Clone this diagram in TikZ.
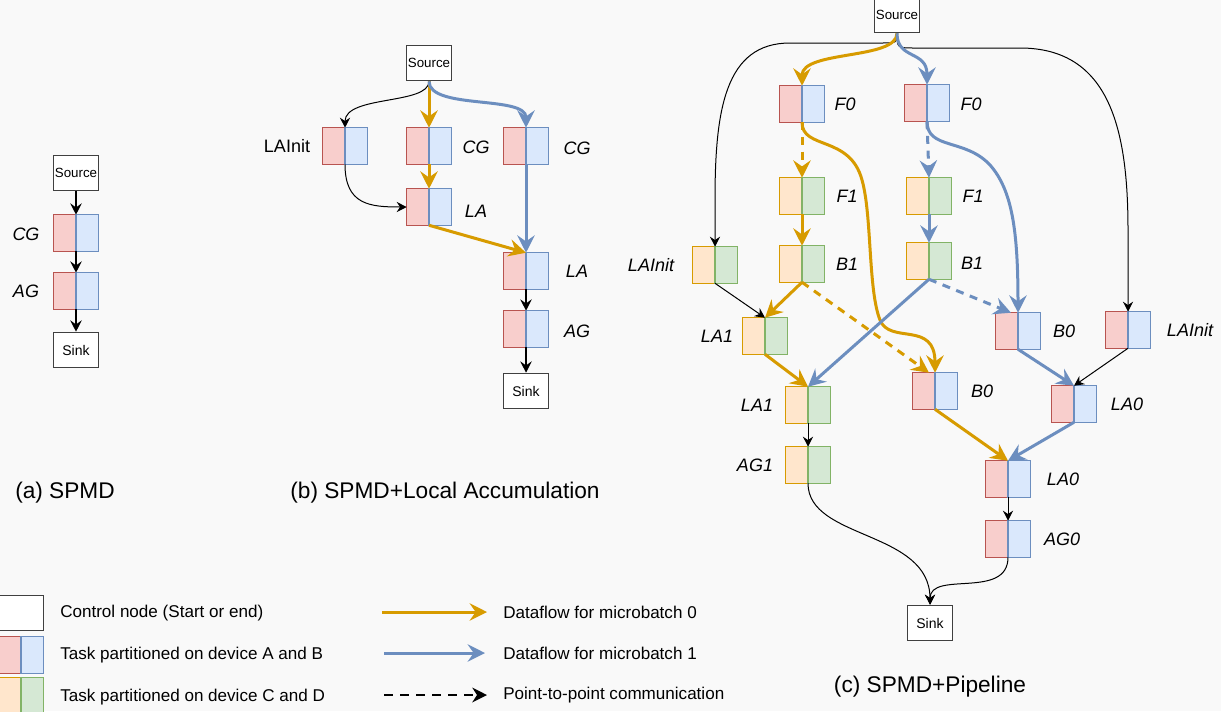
\documentclass[tikz,border=0pt]{standalone}
\usepackage{fontspec}
\setmainfont{Liberation Sans}
\usetikzlibrary{arrows.meta,calc}
\definecolor{rfill}{HTML}{F8CECC}\definecolor{rline}{HTML}{B85450}
\definecolor{bfill}{HTML}{DAE8FC}\definecolor{bline}{HTML}{6C8EBF}
\definecolor{ofill}{HTML}{FFE6CC}\definecolor{oline}{HTML}{D79B00}
\definecolor{gfill}{HTML}{D5E8D4}\definecolor{gline}{HTML}{82B366}
\definecolor{bgc}{HTML}{F9F9F9}
\tikzset{
  ctrl/.style={draw=black!75, line width=0.9pt, fill=white, minimum width=33.75pt, minimum height=26.5pt, inner sep=0pt, font=\fontsize{10}{12}\selectfont},
  task/.style={minimum width=33pt, minimum height=27pt, inner sep=0pt},
  lbl/.style={font=\fontsize{13.5}{16}\selectfont\itshape},
  lblup/.style={font=\fontsize{13.5}{16}\selectfont},
  captext/.style={font=\fontsize{17}{20}\selectfont},
  leg/.style={font=\fontsize{12.8}{15}\selectfont, anchor=west, inner sep=0pt},
  thinarr/.style={draw=black, line width=0.75pt, -{Stealth[length=7.5pt,width=7.5pt,inset=2.5pt]}},
  thickarr/.style={draw=black, line width=1.1pt, -{Stealth[length=8.5pt,width=8.5pt,inset=3pt]}},
  mb0/.style={draw=oline, line width=2.25pt, -{Stealth[length=13pt,width=13pt,inset=4.5pt]}},
  mb1/.style={draw=bline, line width=2.25pt, -{Stealth[length=13pt,width=13pt,inset=4.5pt]}},
  p2p/.style={dash pattern=on 6pt off 5pt},
}
\begin{document}
\begin{tikzpicture}[x=0.75pt,y=-0.75pt]
\fill[bgc] (0,0) rectangle (1221,711);
\useasboundingbox (0,0) rectangle (1221,711);

% ---------- (a) ----------
\node[ctrl] (srcA) at (76,173) {Source};
\node[task] (cgA) at (76,233) {};
\node[task] (agA) at (76,291) {};
\node[ctrl,font=\fontsize{10.5}{12}\selectfont] (sinkA) at (76,350) {Sink};
\node[lbl] (cgAl) at (26,234) {CG};
\node[lbl] (agAl) at (26,291) {AG};

% ---------- (b) ----------
\node[ctrl] (srcB) at (429,63) {Source};
\node[task] (lainitB) at (345,146) {};
\node[task] (cg1B) at (429,146) {};
\node[task] (cg2B) at (526,146) {};
\node[task] (la1B) at (429,207) {};
\node[task] (la2B) at (526,271) {};
\node[task] (agB) at (526,329) {};
\node[ctrl,font=\fontsize{10.5}{12}\selectfont] (sinkB) at (526,391) {Sink};
\node[lblup] (lainitBl) at (287,146) {LAInit};
\node[lbl] (cg1Bl) at (476,147) {CG};
\node[lbl] (cg2Bl) at (577,148) {CG};
\node[lbl] (la1Bl) at (476,211) {LA};
\node[lbl] (la2Bl) at (577,271) {LA};
\node[lbl] (agBl) at (577,331) {AG};

% ---------- (c) ----------
\node[ctrl] (srcC) at (897,15) {Source};
\node[task] (f0L) at (802,104) {};
\node[task] (f0R) at (927,103) {};
\node[task] (f1L) at (802,196) {};
\node[task] (f1R) at (929,196) {};
\node[task] (b1L) at (802,264) {};
\node[task] (b1R) at (929,261) {};
\node[task] (lainitL) at (715,265) {};
\node[task] (la1U) at (765,336) {};
\node[task] (la1L) at (808,405) {};
\node[task] (ag1) at (808,465) {};
\node[task] (b0L) at (935,391) {};
\node[task] (b0U) at (1018,331) {};
\node[task] (lainitR) at (1128,330) {};
\node[task] (la0U) at (1074,404) {};
\node[task] (la0L) at (1008,479) {};
\node[task] (ag0) at (1008,539) {};
\node[ctrl,font=\fontsize{10.5}{12}\selectfont] (sinkC) at (930,623) {Sink};

\node[lbl] (f0Ll) at (845,104) {F0};
\node[lbl] (f0Rl) at (971,104) {F0};
\node[lbl] (f1Ll) at (847,196) {F1};
\node[lbl] (f1Rl) at (973,196) {F1};
\node[lbl] (b1Ll) at (847,264) {B1};
\node[lbl] (b1Rl) at (972,263) {B1};
\node[lbl] (lainitLl) at (651,265) {LAInit};
\node[lbl] (la1Ul) at (717,336) {LA1};
\node[lbl] (la1Ll) at (757,405) {LA1};
\node[lbl] (ag1l) at (755,465) {AG1};
\node[lbl] (b0Ll) at (982,391) {B0};
\node[lbl] (b0Ul) at (1064,331) {B0};
\node[lbl] (lainitRl) at (1190,330) {LAInit};
\node[lbl] (la0Ul) at (1127,404) {LA0};
\node[lbl] (la0Ll) at (1063,479) {LA0};
\node[lbl] (ag0l) at (1062,539) {AG0};

% ---------- legend ----------
\node[ctrl] (legC) at (21,613) {};
\node[task] (legAB) at (21,655) {};
\node[task] (legCD) at (21,696) {};
\node[leg] (legCt) at (60,613) {Control node (Start or end)};
\node[leg] (legABt) at (60,655) {Task partitioned on device A and B};
\node[leg] (legCDt) at (60,697) {Task partitioned on device C and D};
\coordinate (l0a) at (382,612); \coordinate (l0b) at (487,612);
\coordinate (l1a) at (384,653); \coordinate (l1b) at (485,653);
\coordinate (l2a) at (384,695); \coordinate (l2b) at (487,695);
\node[leg] (l0t) at (503,612) {Dataflow for microbatch 0};
\node[leg] (l1t) at (503,653) {Dataflow for microbatch 1};
\node[leg] (l2t) at (503,695) {Point-to-point communication};

% ---------- captions ----------
\node[captext] (capA) at (65,493) {(a) SPMD};
\node[captext] (capB) at (445,493) {(b) SPMD+Local Accumulation};
\node[captext] (capC) at (930,687) {(c) SPMD+Pipeline};

% ---------- halves ----------
\foreach \n in {cgA,agA,lainitB,cg1B,cg2B,la1B,la2B,agB,f0L,f0R,b0L,b0U,lainitR,la0U,la0L,ag0,legAB}{
  \draw[draw=rline,fill=rfill,line width=0.8pt] (\n.south west) rectangle (\n.north);
  \draw[draw=bline,fill=bfill,line width=0.8pt] (\n.south) rectangle (\n.north east);
}
\foreach \n in {f1L,f1R,b1L,b1R,lainitL,la1U,la1L,ag1,legCD}{
  \draw[draw=oline,fill=ofill,line width=0.8pt] (\n.south west) rectangle (\n.north);
  \draw[draw=gline,fill=gfill,line width=0.8pt] (\n.south) rectangle (\n.north east);
}

% ---------- connectors (a) ----------
\draw[thickarr] (srcA.south) -- (cgA.north);
\draw[thickarr] (cgA.south) -- (agA.north);
\draw[thickarr] (agA.south) -- (sinkA.north);

% ---------- connectors (b) ----------
\draw[thinarr] (srcB.south) .. controls (429,105) and (345,95) .. (lainitB.north);
\draw[mb0] (srcB.south) -- (cg1B.north);
\draw[mb1] (srcB.south) .. controls (429,110) and (526,95) .. (cg2B.north);
\draw[mb0] (cg1B.south) -- (la1B.north);
\draw[thinarr] (lainitB.south) .. controls (345,205) and (370,207) .. (la1B.west);
\draw[mb0] (la1B.south) -- (la2B.north);
\draw[mb1] (cg2B.south) -- (la2B.north);
\draw[thickarr] (la2B.south) -- (agB.north);
\draw[thickarr] (agB.south) -- (sinkB.north);

% ---------- connectors (c) ----------
\draw[thinarr] (srcC.south) .. controls (897,43) .. (880,43) -- (790,43) .. controls (725,43) and (715,110) .. (715,200) -- (lainitL.north);
\draw[thinarr] (srcC.south) .. controls (897,48) .. (915,48) -- (1020,48) .. controls (1110,48) and (1128,130) .. (1128,230) -- (lainitR.north);
\draw[mb0] (srcC.south) .. controls (897,60) and (802,50) .. (f0L.north);
\draw[mb1] (srcC.south) .. controls (897,60) and (927,50) .. (f0R.north);
\draw[mb0,p2p] (f0L.south) -- (f1L.north);
\draw[mb0] (f0L.south) .. controls (802,150) and (850,135) .. (862,180) .. controls (872,215) and (868,290) .. (880,320) .. controls (890,345) and (935,320) .. (b0L.north);
\draw[mb1,p2p] (f0R.south) -- (f1R.north);
\draw[mb1] (f0R.south) .. controls (927,150) and (965,138) .. (990,165) .. controls (1012,190) and (1018,230) .. (b0U.north);
\draw[mb0] (f1L.south) -- (b1L.north);
\draw[mb1] (f1R.south) -- (b1R.north);
\draw[mb0] (b1L.south) -- (la1U.north);
\draw[mb0,p2p] (b1L.south) -- ($(b0L.north)+(-6,0)$);
\draw[thinarr] (lainitL.south) -- (la1U.north);
\draw[mb1] (b1R.south) -- (la1L.north);
\draw[mb1,p2p] (b1R.south) -- ($(b0U.north)+(-7,0)$);
\draw[mb0] (la1U.south) -- (la1L.north);
\draw[thinarr] (la1L.south) -- (ag1.north);
\draw[thinarr] (ag1.south) .. controls (808,540) and (930,530) .. (sinkC.north);
\draw[thinarr] (ag0.south) .. controls (1008,600) and (930,570) .. (sinkC.north);
\draw[mb1] (b0U.south) -- (la0U.north);
\draw[thinarr] (lainitR.south) -- (la0U.north);
\draw[mb0] (b0L.south) -- (la0L.north);
\draw[mb1] (la0U.south) -- (la0L.north);
\draw[thinarr] (la0L.south) -- (ag0.north);

% ---------- legend arrows ----------
\draw[mb0] (l0a) -- (l0b);
\draw[mb1] (l1a) -- (l1b);
\draw[draw=black,line width=1.8pt,dash pattern=on 7pt off 5pt,-{Stealth[length=11pt,width=11pt,inset=3.5pt]}] (l2a) -- (l2b);
\end{tikzpicture}
\end{document}
